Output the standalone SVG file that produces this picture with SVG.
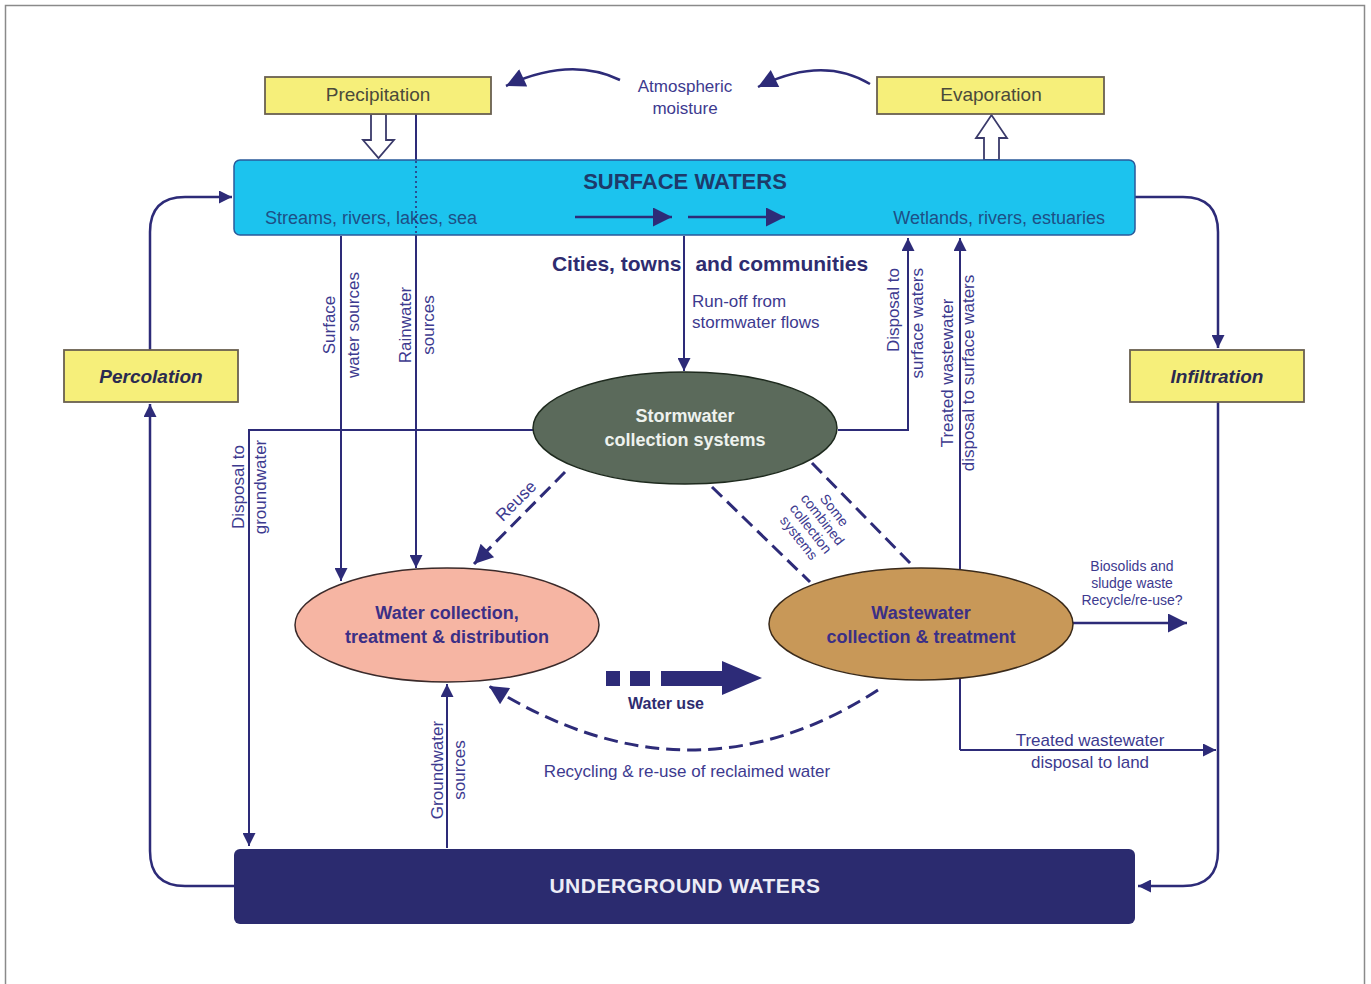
<svg xmlns="http://www.w3.org/2000/svg" width="1371" height="984" viewBox="0 0 1371 984">
<defs>
<marker id="ah" viewBox="0 0 10 10" refX="10" refY="5" markerWidth="15" markerHeight="13" markerUnits="userSpaceOnUse" orient="auto">
<path d="M0,0 L10,5 L0,10 z" fill="#2d2b78"/>
</marker>
<marker id="ahb" viewBox="0 0 10 10" refX="10" refY="5" markerWidth="22" markerHeight="19" markerUnits="userSpaceOnUse" orient="auto">
<path d="M0,0 L10,5 L0,10 z" fill="#2d2b78"/>
</marker>
<style>
.ln{fill:none;stroke:#2d2b78;stroke-width:2}
.lp{fill:none;stroke:#2d2b78;stroke-width:2.5}
.dash{fill:none;stroke:#2d2b78;stroke-width:3;stroke-dasharray:14 7}
.lbl{font-family:"Liberation Sans",Arial,sans-serif;font-size:17px;fill:#3d3a8f}
.sm{font-family:"Liberation Sans",Arial,sans-serif;font-size:14px;fill:#3d3a8f}
.ybox{fill:#f6ef7a;stroke:#6a6050;stroke-width:1.8}
.yt{font-family:"Liberation Sans",Arial,sans-serif;font-size:19px;fill:#4a4a3a;text-anchor:middle}
.yti{font-family:"Liberation Sans",Arial,sans-serif;font-size:19px;fill:#2a2a50;font-weight:bold;font-style:italic;text-anchor:middle}
.et{font-family:"Liberation Sans",Arial,sans-serif;font-size:18px;font-weight:bold;text-anchor:middle}
.hollow{fill:#ffffff;stroke:#3a3a6a;stroke-width:1.8}
</style>
</defs>
<rect x="5.5" y="5.5" width="1359" height="990" fill="#ffffff" stroke="#8a8a8a" stroke-width="1.5"/>

<g id="connectors">
<path class="lp" d="M620 80 Q 570 56 506 86" marker-end="url(#ahb)"/>
<path class="lp" d="M870 84 Q 822 55 758 87" marker-end="url(#ahb)"/>
<path class="lp" d="M234 886 H185 Q150 886 150 851 V404" marker-end="url(#ah)"/>
<path class="lp" d="M150 350 V232 Q150 197 185 197 H232" marker-end="url(#ah)"/>
<path class="lp" d="M1135 197 H1183 Q1218 197 1218 232 V348" marker-end="url(#ah)"/>
<path class="lp" d="M1218 402 V851 Q1218 886 1183 886 H1138" marker-end="url(#ah)"/>
<path class="ln" d="M341 236 V581" marker-end="url(#ah)"/>
<path class="ln" d="M416 114 V568" marker-end="url(#ah)"/>
<path class="ln" d="M684 236 V371" marker-end="url(#ah)"/>
<path class="ln" d="M533 430 H249 V846" marker-end="url(#ah)"/>
<path class="ln" d="M838 430 H908 V238" marker-end="url(#ah)"/>
<path class="ln" d="M960 750 V238" marker-end="url(#ah)"/>
<path class="ln" d="M960 750 H1216" marker-end="url(#ah)"/>
<path class="ln" d="M447 848 V684" marker-end="url(#ah)"/>
<path class="lp" d="M1073 623 H1187" marker-end="url(#ahb)"/>
<path class="dash" d="M565 472 L474 564" marker-end="url(#ahb)"/>
<path class="dash" d="M712 487 L810 582"/>
<path class="dash" d="M812 463 L915 568"/>
<path class="dash" d="M878 690 Q 690 812 489 686" marker-end="url(#ahb)"/>
<g fill="#2d2b78">
<rect x="606" y="671" width="14" height="15"/>
<rect x="630" y="671" width="20" height="15"/>
<rect x="661" y="671" width="64" height="15"/>
<path d="M722 661 L762 678 L722 695 z"/>
</g>
<path class="hollow" d="M371 114 H386 V140 H394 L378.5 158 L363 140 H371 z"/>
<path class="hollow" d="M984 160 V138 H976 L991.5 115 L1007 138 H999 V160 z"/>
</g>

<g id="surface-waters">
<rect x="234" y="160" width="901" height="75" rx="6" fill="#1cc3ee" stroke="#2a5a9a" stroke-width="1.5"/>
<text x="685" y="189" font-family="Liberation Sans,Arial,sans-serif" font-size="22" font-weight="bold" fill="#1d3a6a" text-anchor="middle">SURFACE WATERS</text>
<text x="265" y="224" font-family="Liberation Sans,Arial,sans-serif" font-size="18" fill="#1e4f86">Streams, rivers, lakes, sea</text>
<text x="1105" y="224" font-family="Liberation Sans,Arial,sans-serif" font-size="18" fill="#1e4f86" text-anchor="end">Wetlands, rivers, estuaries</text>
</g>

<g id="surface-flow">
<line x1="416" y1="161" x2="416" y2="234" stroke="#2d2b78" stroke-width="1.5" stroke-dasharray="2 3"/>
<path class="lp" d="M575 217 H672" marker-end="url(#ahb)"/>
<path class="lp" d="M688 217 H785" marker-end="url(#ahb)"/>
</g>

<g id="underground-waters">
<rect x="234" y="849" width="901" height="75" rx="6" fill="#2b2b6f"/>
<text x="685" y="893" font-family="Liberation Sans,Arial,sans-serif" font-size="21" font-weight="bold" fill="#ececf6" text-anchor="middle" letter-spacing="0.5">UNDERGROUND WATERS</text>
</g>

<g id="precipitation">
<rect class="ybox" x="265" y="77" width="226" height="37"/>
<text class="yt" x="378" y="101">Precipitation</text>
</g>
<g id="evaporation">
<rect class="ybox" x="877" y="77" width="227" height="37"/>
<text class="yt" x="991" y="101">Evaporation</text>
</g>
<g id="atmospheric-moisture">
<text class="lbl" x="685" y="92" text-anchor="middle" font-size="18">Atmospheric</text>
<text class="lbl" x="685" y="114" text-anchor="middle" font-size="18">moisture</text>
</g>
<g id="percolation">
<rect class="ybox" x="64" y="350" width="174" height="52"/>
<text class="yti" x="151" y="383">Percolation</text>
</g>
<g id="infiltration">
<rect class="ybox" x="1130" y="350" width="174" height="52"/>
<text class="yti" x="1217" y="383">Infiltration</text>
</g>

<g id="cities-label">
<text x="710" y="271" font-family="Liberation Sans,Arial,sans-serif" font-size="21" font-weight="bold" fill="#2e2c70" text-anchor="middle">Cities, towns<tspan dx="14">and communities</tspan></text>
</g>

<g id="stormwater">
<ellipse cx="685" cy="428" rx="152" ry="56" fill="#5b6a5b" stroke="#1e2a1e" stroke-width="1.5"/>
<text class="et" x="685" y="422" fill="#eef2ee">Stormwater</text>
<text class="et" x="685" y="446" fill="#eef2ee">collection systems</text>
</g>
<g id="water-collection">
<ellipse cx="447" cy="625" rx="152" ry="57" fill="#f6b5a3" stroke="#3a2a2a" stroke-width="1.5"/>
<text class="et" x="447" y="619" fill="#3b2f86">Water collection,</text>
<text class="et" x="447" y="643" fill="#3b2f86">treatment &amp; distribution</text>
</g>
<g id="wastewater">
<ellipse cx="921" cy="624" rx="152" ry="56" fill="#c89858" stroke="#3a2a1a" stroke-width="1.5"/>
<text class="et" x="921" y="619" fill="#3b2f86">Wastewater</text>
<text class="et" x="921" y="643" fill="#3b2f86">collection &amp; treatment</text>
</g>

<g id="labels">
<text class="lbl" x="692" y="307">Run-off from</text>
<text class="lbl" x="692" y="328">stormwater flows</text>
<text class="lbl" transform="translate(335,325) rotate(-90)" text-anchor="middle">Surface</text>
<text class="lbl" transform="translate(359,325) rotate(-90)" text-anchor="middle">water sources</text>
<text class="lbl" transform="translate(411,325) rotate(-90)" text-anchor="middle">Rainwater</text>
<text class="lbl" transform="translate(434,325) rotate(-90)" text-anchor="middle">sources</text>
<text class="lbl" transform="translate(244,487) rotate(-90)" text-anchor="middle">Disposal to</text>
<text class="lbl" transform="translate(266,487) rotate(-90)" text-anchor="middle">groundwater</text>
<text class="lbl" transform="translate(899,268) rotate(-90)" text-anchor="end">Disposal to</text>
<text class="lbl" transform="translate(923,268) rotate(-90)" text-anchor="end">surface waters</text>
<text class="lbl" transform="translate(953,373) rotate(-90)" text-anchor="middle">Treated wastewater</text>
<text class="lbl" transform="translate(974,373) rotate(-90)" text-anchor="middle">disposal to surface waters</text>
<text class="lbl" transform="translate(443,770) rotate(-90)" text-anchor="middle">Groundwater</text>
<text class="lbl" transform="translate(465,770) rotate(-90)" text-anchor="middle">sources</text>
<text class="lbl" transform="translate(520,505) rotate(-45)" text-anchor="middle" font-size="15">Reuse</text>
<g transform="translate(818,523) rotate(52)">
<text class="sm" x="0" y="-16" text-anchor="middle">Some</text>
<text class="sm" x="0" y="-1" text-anchor="middle">combined</text>
<text class="sm" x="0" y="14" text-anchor="middle">collection</text>
<text class="sm" x="0" y="29" text-anchor="middle">systems</text>
</g>
<text class="sm" x="1132" y="571" text-anchor="middle">Biosolids and</text>
<text class="sm" x="1132" y="588" text-anchor="middle">sludge waste</text>
<text class="sm" x="1132" y="605" text-anchor="middle">Recycle/re-use?</text>
<text class="lbl" x="1090" y="746" text-anchor="middle">Treated wastewater</text>
<text class="lbl" x="1090" y="768" text-anchor="middle">disposal to land</text>
<text class="lbl" x="687" y="777" text-anchor="middle">Recycling &amp; re-use of reclaimed water</text>
<text x="666" y="709" font-family="Liberation Sans,Arial,sans-serif" font-size="16" font-weight="bold" fill="#2e2c70" text-anchor="middle">Water use</text>
</g>
</svg>
